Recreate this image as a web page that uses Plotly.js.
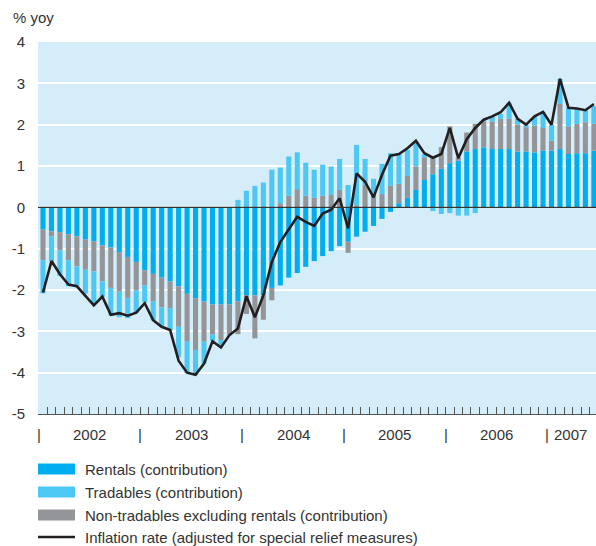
<!DOCTYPE html>
<html><head><meta charset="utf-8">
<script src="https://cdn.plot.ly/plotly-3.0.1.min.js"></script>
<style>html,body{margin:0;padding:0;background:#fff}#chart{width:596px;height:546px}</style>
</head><body><div id="chart"></div>
<script>
// ---- categories: monthly, Jan 2002 .. Jun 2007 ----
const yearLabels = ['2002','2003','2004','2005','2006','2007'];
const monthNames = ['Jan','Feb','Mar','Apr','May','Jun','Jul','Aug','Sep','Oct','Nov','Dec'];
const months = [];
yearLabels.forEach(y => monthNames.forEach((m, k) => { if (y !== '2007' || k < 6) months.push(m + ' ' + y); }));

// ---- series (percentage points, yoy) ----
const rentals = [-0.54,-0.58,-0.60,-0.65,-0.70,-0.78,-0.82,-0.92,-0.97,-1.08,-1.20,-1.32,
  -1.52,-1.61,-1.70,-1.79,-1.91,-2.09,-2.20,-2.28,-2.35,-2.35,-2.35,-2.27,
  -2.13,-2.13,-2.13,-1.95,-1.89,-1.70,-1.59,-1.44,-1.30,-1.18,-1.06,-0.94,
  -0.83,-0.71,-0.59,-0.45,-0.28,-0.11,0.10,0.23,0.42,0.66,0.80,0.93,
  1.07,1.13,1.35,1.41,1.45,1.41,1.41,1.41,1.35,1.35,1.33,1.37,
  1.37,1.41,1.29,1.31,1.31,1.37];
const nonTradables = [-0.74,-0.12,-0.44,-0.63,-0.73,-0.73,-0.73,-0.87,-0.98,-0.96,-0.99,-0.69,
  -0.37,-0.67,-0.72,-0.65,-0.98,-1.16,-1.25,-0.97,-0.73,-0.86,-0.72,-0.80,
  -0.45,-1.04,-0.59,-0.30,0.10,0.28,0.44,0.28,0.23,0.28,0.30,0.42,
  -0.27,0.05,0.54,0.28,0.32,0.52,0.47,0.53,0.57,0.55,0.39,0.53,
  0.89,0.07,0.46,0.61,0.63,0.67,0.73,0.74,0.65,0.59,0.65,0.55,
  0.24,1.09,0.67,0.71,0.75,0.65];
const tradables = [-0.80,-0.61,-0.62,-0.63,-0.48,-0.58,-0.80,-0.38,-0.67,-0.62,-0.49,-0.55,
  -0.41,-0.46,-0.48,-0.54,-0.74,-0.75,-0.61,-0.53,-0.15,-0.14,-0.03,0.18,
  0.40,0.52,0.60,0.91,0.86,0.95,0.89,0.80,0.68,0.75,0.69,0.75,
  0.54,1.46,0.63,0.41,0.73,0.79,0.72,0.63,0.61,0.07,-0.09,-0.16,
  -0.14,-0.20,-0.20,-0.14,0.03,0.11,0.12,0.38,0.14,0.06,0.21,0.39,
  0.39,0.61,0.45,0.37,0.29,0.43];
const inflation = [-2.06,-1.30,-1.62,-1.87,-1.91,-2.13,-2.37,-2.16,-2.60,-2.56,-2.62,-2.55,
  -2.32,-2.73,-2.89,-2.97,-3.71,-4.00,-4.05,-3.78,-3.24,-3.39,-3.09,-2.93,
  -2.15,-2.66,-2.13,-1.32,-0.84,-0.53,-0.23,-0.35,-0.45,-0.15,-0.06,0.22,
  -0.51,0.82,0.62,0.24,0.79,1.25,1.29,1.43,1.61,1.31,1.20,1.29,
  1.92,1.19,1.65,1.92,2.12,2.20,2.30,2.53,2.14,2.00,2.20,2.31,
  2.00,3.11,2.41,2.39,2.35,2.50];

const seriesNames = ['Rentals (contribution)','Tradables (contribution)',
  'Non-tradables excluding rentals (contribution)','Inflation rate (adjusted for special relief measures)'];
const yTickVals = [-5,-4,-3,-2,-1,0,1,2,3,4];
const yTickText = ['-5','-4','-3','-2','-1','0','1','2','3','4'];

// ---- styles ----
const C_RENT = '#00AEEF', C_TRAD = '#4DC8F5', C_NONT = '#939598', C_LINE = '#231F20';
const TXT = '#333333', FONT = 'Liberation Sans, Arial, sans-serif';

const xIdx = months.map((_, i) => i);
const barW = 0.6;
const hov = '%{customdata}: %{y}<extra></extra>';

const traces = [
  {type:'bar', name:seriesNames[0], x:xIdx, y:rentals, width:barW, marker:{color:C_RENT, line:{width:0}}, showlegend:false, customdata:months, hovertemplate:hov},
  {type:'bar', name:seriesNames[2], x:xIdx, y:nonTradables, width:barW, marker:{color:C_NONT, line:{width:0}}, showlegend:false, customdata:months, hovertemplate:hov},
  {type:'bar', name:seriesNames[1], x:xIdx, y:tradables, width:barW, marker:{color:C_TRAD, line:{width:0}}, showlegend:false, customdata:months, hovertemplate:hov},
  {type:'scatter', mode:'lines', name:seriesNames[3], x:xIdx, y:inflation, line:{color:C_LINE, width:2.6}, showlegend:false, customdata:months, hovertemplate:hov}
];

// layout geometry
const W = 596, H = 546, mL = 38, mR = 0, mT = 42, mB = 132;
const plotH = H - mT - mB;
const py = y => (H - mB - y) / plotH;           // pixel y -> paper y
const px = x => (x - mL) / (W - mL - mR);       // pixel x -> paper x

// month boundary ticks
const monthTicks = xIdx.map(i => i - 0.5);

// year labels & separators
const annotations = [];
const shapes = [];
yearLabels.forEach(y => {
  const first = months.findIndex(m => m.endsWith(y));
  const last = months.length - 1 - [...months].reverse().findIndex(m => m.endsWith(y));
  annotations.push({xref:'x', yref:'paper', x:first - 0.5, y:py(434), text:'|', showarrow:false,
    xanchor:'center', yanchor:'middle', font:{family:FONT, size:15, color:TXT}});
  const full = (last - first + 1) === 12;
  annotations.push({xref:'x', yref:'paper', x: full ? (first + last) / 2 : first - 0.5, xshift: full ? 0 : 5,
    y:py(434), text:y, showarrow:false, xanchor: full ? 'center' : 'left', yanchor:'middle',
    font:{family:FONT, size:15, color:TXT}});
});

// zero line drawn above bars
shapes.push({type:'line', xref:'paper', x0:0, x1:1, yref:'y', y0:0, y1:0, layer:'above',
  line:{color:'#333333', width:1.4}});

// custom legend
const legendRows = [469, 492, 515, 537];
const legendColors = [C_RENT, C_TRAD, C_NONT, C_LINE];
const legendOrder = [0, 1, 2, 3];
legendOrder.forEach((k, r) => {
  const yc = legendRows[r];
  if (k < 3) {
    shapes.push({type:'rect', xref:'paper', yref:'paper', x0:px(38), x1:px(75), y0:py(yc + 5.5), y1:py(yc - 5.5),
      fillcolor:legendColors[k], line:{width:0}});
  } else {
    shapes.push({type:'line', xref:'paper', yref:'paper', x0:px(38), x1:px(75), y0:py(yc), y1:py(yc),
      line:{color:legendColors[k], width:2.6}});
  }
  annotations.push({xref:'paper', yref:'paper', x:px(83), y:py(yc), text:seriesNames[k], showarrow:false,
    xanchor:'left', yanchor:'middle', font:{family:FONT, size:15, color:TXT}});
});

const layout = {
  width:W, height:H,
  margin:{l:mL, r:mR, t:mT, b:mB, pad:0},
  paper_bgcolor:'#ffffff', plot_bgcolor:'#D5EDF9',
  barmode:'relative',
  font:{family:FONT, size:15, color:TXT},
  title:{text:'% yoy', x:13/W, xanchor:'left', xref:'container', y:1 - 18/H, yref:'container', yanchor:'middle',
    font:{family:FONT, size:15, color:TXT}},
  xaxis:{range:[-0.59, 65.25], tickvals:monthTicks, showticklabels:false, ticks:'inside', ticklen:7,
    tickcolor:'#555555', tickwidth:1, showgrid:false, zeroline:false, showline:true, linecolor:'#555555',
    linewidth:1.2, fixedrange:true},
  yaxis:{range:[-5, 4], tickvals:yTickVals, ticktext:yTickText, ticks:'', showgrid:true, gridcolor:'#ffffff',
    gridwidth:2, zeroline:false, showline:false, ticklabelstandoff:12, tickfont:{family:FONT, size:15, color:TXT},
    fixedrange:true},
  showlegend:false,
  annotations:annotations,
  shapes:shapes
};

Plotly.newPlot('chart', traces, layout, {displayModeBar:false, staticPlot:true});
</script>
</body></html>
